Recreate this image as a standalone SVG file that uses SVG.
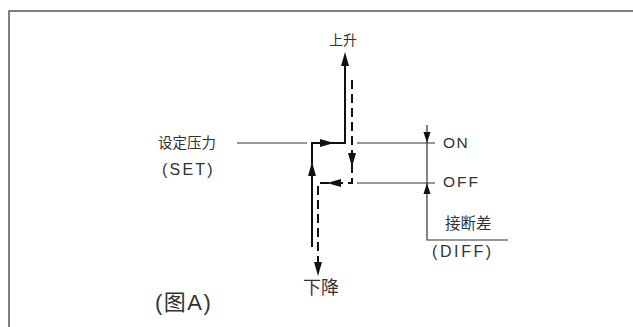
<svg xmlns="http://www.w3.org/2000/svg" width="633" height="327" viewBox="0 0 633 327">
<style>
.t{font-family:"Liberation Sans","Noto Sans CJK SC",sans-serif;fill:#333;}
.thin{stroke:#333;stroke-width:1.2;fill:none;}
.solid{stroke:#111;stroke-width:2;fill:none;}
.dash{stroke:#111;stroke-width:2;fill:none;stroke-dasharray:9 5;}
.ah{fill:#111;stroke:none;}
</style>
<rect width="633" height="327" fill="#fff"/>
<g id="frame">
<path d="M9,327 V11 H633" stroke="#555" stroke-width="1.5" fill="none"/>
</g>
<g id="connectors">
<path class="thin" d="M237,143 H307"/>
<path class="thin" d="M357,143 H435"/>
<path class="thin" d="M357,183 H435"/>
<path class="thin" d="M427,125 V240 H508"/>
<path class="solid" d="M312,247 V143 H345 V64"/>
<path class="dash" d="M352,80 V183 H318 V264"/>
<polygon class="ah" points="345,52 341,66 349,66"/>
<polygon class="ah" points="312,162 308,176 316,176"/>
<polygon class="ah" points="334,143 320,139 320,147"/>
<polygon class="ah" points="352,167 348,153 356,153"/>
<polygon class="ah" points="327,183 341,179 341,187"/>
<polygon class="ah" points="318,276 314,262 322,262"/>
<polygon class="ah" points="427,143 423.5,132 430.5,132"/>
<polygon class="ah" points="427,183 423.5,194 430.5,194"/>
</g>
<g id="label-up"><text class="t" x="343" y="45" font-size="14" text-anchor="middle">上升</text></g>
<g id="label-down"><text class="t" x="321" y="294" font-size="18" text-anchor="middle">下降</text></g>
<g id="label-set">
<text class="t" x="158" y="148" font-size="14.5">设定压力</text>
<text class="t" x="162" y="175" font-size="16" letter-spacing="2.2">(SET)</text>
</g>
<g id="label-on"><text class="t" x="443" y="148" font-size="15.5" letter-spacing="1.5">ON</text></g>
<g id="label-off"><text class="t" x="443" y="187" font-size="15.5" letter-spacing="2">OFF</text></g>
<g id="label-diff">
<text class="t" x="445" y="229" font-size="15.5">接断差</text>
<text class="t" x="432" y="257" font-size="16" letter-spacing="2.6">(DIFF)</text>
</g>
<g id="label-fig"><text class="t" x="155" y="310" font-size="22" letter-spacing="1.5">(图A)</text></g>
</svg>
